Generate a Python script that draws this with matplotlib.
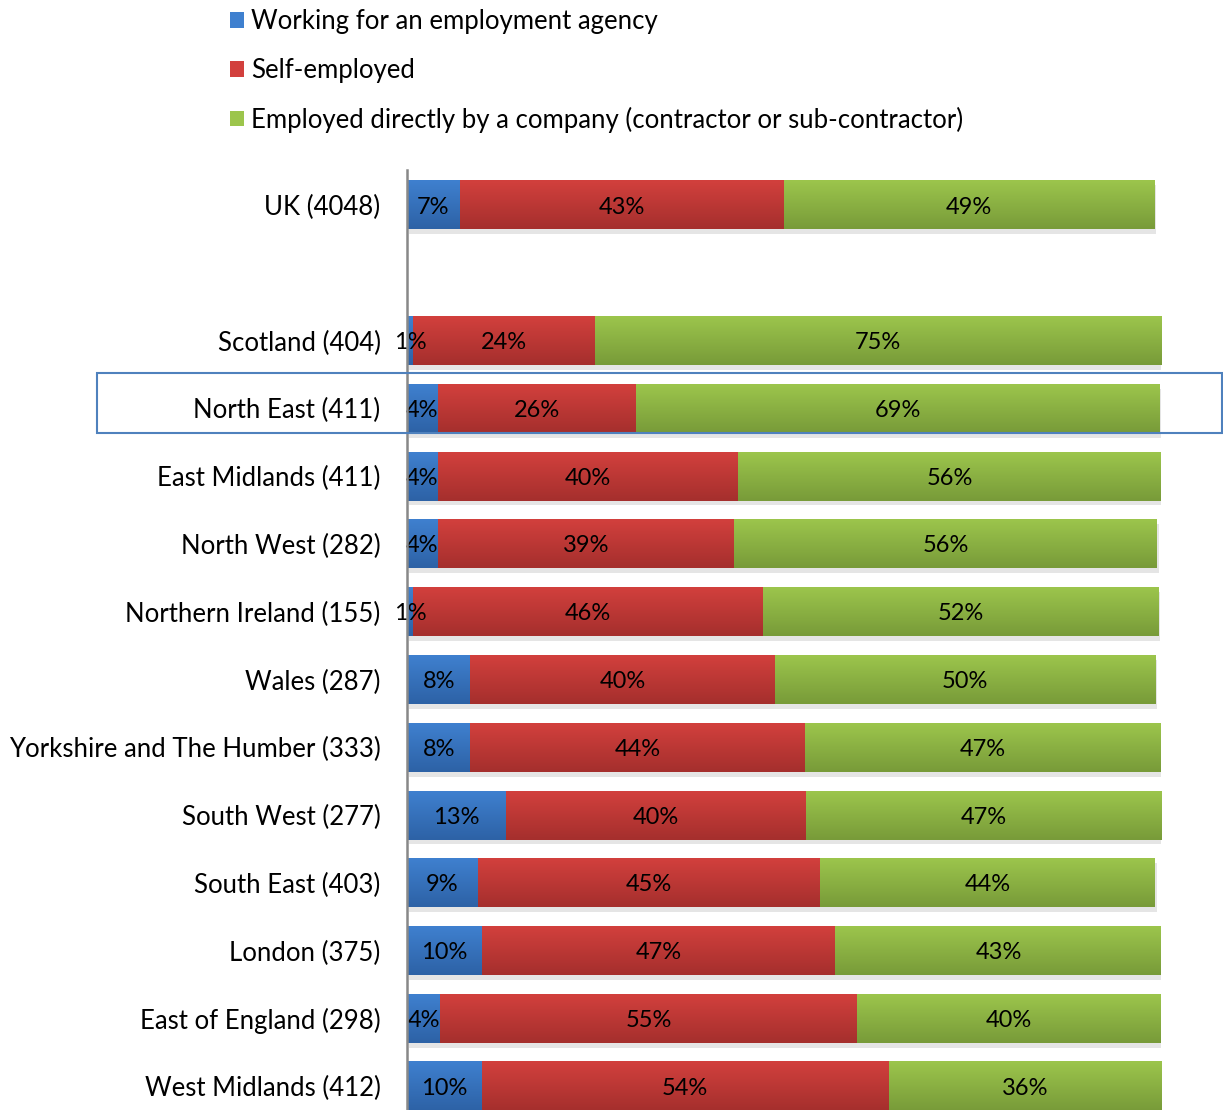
import numpy as np
import matplotlib
matplotlib.use('Agg')
import matplotlib.pyplot as plt
from matplotlib.patches import Rectangle, Patch
import matplotlib.patheffects as pe

plt.rcParams['font.family'] = ['Lato', 'DejaVu Sans']

# regions (blank entry = gap after UK)
regions = ['UK (4048)', '', 'Scotland (404)', 'North East (411)', 'East Midlands (411)',
           'North West (282)', 'Northern Ireland (155)', 'Wales (287)',
           'Yorkshire and The Humber (333)', 'South West (277)', 'South East (403)',
           'London (375)', 'East of England (298)', 'West Midlands (412)']

# percentages
agency = [7.0, 0, 0.8, 4.1, 4.1, 4.1, 0.8, 8.4, 8.4, 13.1, 9.4, 9.9, 4.4, 9.9]
self_emp = [43.0, 0, 24.1, 26.3, 39.8, 39.3, 46.4, 40.4, 44.4, 39.8, 45.4, 46.9, 55.3, 54.0]
direct = [49.1, 0, 75.1, 69.4, 56.2, 56.1, 52.4, 50.4, 47.1, 47.2, 44.4, 43.4, 40.3, 36.1]

series_names = ['Working for an employment agency', 'Self-employed',
                'Employed directly by a company (contractor or sub-contractor)']
# (top colour, bottom colour) for the gradient
colors = [('#3f80cf', '#2d62a6'), ('#d2403d', '#a52f2d'), ('#9cc54c', '#789b39')]

W, H = 1223, 1110
fig = plt.figure(figsize=(W / 100, H / 100), dpi=100)
ax = fig.add_axes([407 / W, 0, 754 / W, (H - 170) / H])

y = np.arange(len(regions))
bar_h = 0.72
data = [agency, self_emp, direct]

grad = np.linspace(0, 1, 64).reshape(-1, 1)
left = np.zeros(len(regions))
for k, vals in enumerate(data):
    vals = np.array(vals)
    cmap = matplotlib.colors.LinearSegmentedColormap.from_list('g%d' % k, [colors[k][0], colors[k][1]])
    bars = ax.barh(y, vals, left=left, height=bar_h, color=colors[k][0], linewidth=0,
                   path_effects=[pe.SimplePatchShadow(offset=(1.5, -3.5), shadow_rgbFace='#aaaaaa', alpha=0.3),
                                 pe.Normal()])
    for i, b in enumerate(bars):
        if vals[i] <= 0:
            continue
        x0 = left[i]
        ax.imshow(grad, cmap=cmap, aspect='auto', interpolation='bilinear',
                  extent=(x0, x0 + vals[i], y[i] + bar_h / 2, y[i] - bar_h / 2), zorder=2)
        ax.text(x0 + vals[i] / 2, y[i] + 0.03, '%d%%' % round(vals[i]), ha='center', va='center',
                fontsize=17, color='black', zorder=3)
    left = left + vals

ax.set_xlim(0, 100)
ax.set_ylim(13.35, -0.516)
ax.set_yticks(y)
ax.set_yticklabels(regions, fontsize=18.5)
ax.tick_params(axis='y', length=0, pad=19)
ax.set_xticks([])
for s in ['top', 'right', 'bottom']:
    ax.spines[s].set_visible(False)
ax.spines['left'].set_color('#888888')
ax.spines['left'].set_linewidth(1.8)
ax.spines['left'].set_zorder(4)

# highlight box around North East
fig.patches.append(Rectangle((97 / W, 1 - 433 / H), (1222 - 97) / W, 60 / H,
                             transform=fig.transFigure, fill=False,
                             edgecolor='#4f81bd', linewidth=1.5))

handles = [Patch(facecolor=c[0], edgecolor='none') for c in colors]
fig.legend(handles, series_names, loc='upper left', bbox_to_anchor=(220 / W, 1 + 1 / H),
           frameon=False, fontsize=18.5, handlelength=0.55, handleheight=0.55,
           handletextpad=0.25, labelspacing=0.92, borderaxespad=0)

fig.savefig('out.png', dpi=100)
